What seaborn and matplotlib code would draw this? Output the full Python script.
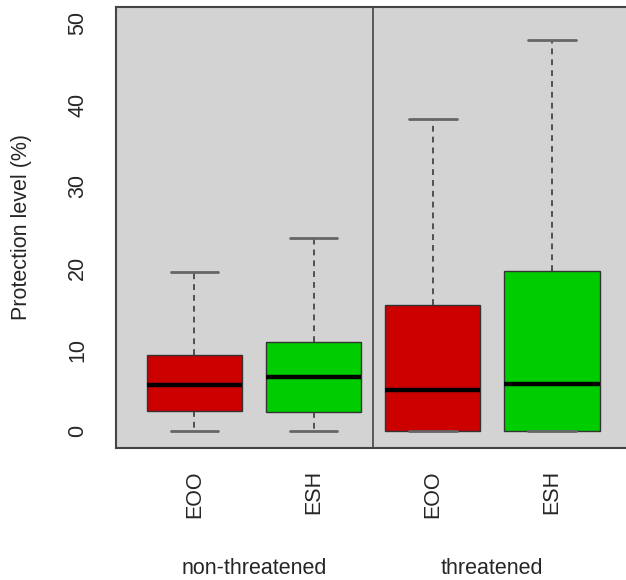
import numpy as np
import pandas as pd
import matplotlib
matplotlib.use("Agg")
import matplotlib.pyplot as plt
import matplotlib.transforms as mtransforms
import seaborn as sns

# Five-number summaries (min, Q1, median, Q3, max) of protection level (%)
groups = ["non-threatened", "non-threatened", "threatened", "threatened"]
measures = ["EOO", "ESH", "EOO", "ESH"]
nt_eoo = [0.0, 2.45, 5.73, 9.32, 19.46]
nt_esh = [0.0, 2.42, 6.62, 10.95, 23.7]
t_eoo = [0.0, 0.04, 5.03, 15.45, 38.2]
t_esh = [0.0, 0.0, 5.85, 19.62, 47.95]
summaries = [nt_eoo, nt_esh, t_eoo, t_esh]
yticks = [0, 10, 20, 30, 40, 50]

rows = []
for g, m, vals in zip(groups, measures, summaries):
    for v in vals:
        rows.append({"box": f"{g} {m}", "group": g, "measure": m, "value": v})
df = pd.DataFrame(rows)
order = [f"{g} {m}" for g, m in zip(groups, measures)]

sns.set_style("white")
plt.rcParams["font.family"] = ["Liberation Sans", "DejaVu Sans"]
FS = 15.5

fig = plt.figure(figsize=(6.26, 5.80), dpi=100)
ax = fig.add_axes([0.1848, 0.2281, 0.8226, 0.7603])
ax.set_facecolor("#D3D3D3")

sns.boxplot(
    data=df, x="box", y="value", hue="measure", order=order,
    hue_order=["EOO", "ESH"], palette={"EOO": "#CD0000", "ESH": "#00CD00"},
    dodge=False, width=0.8, whis=(0, 100), saturation=1, legend=False,
    linecolor="#333333", linewidth=1.0,
    whiskerprops={"linestyle": (0, (3.5, 3)), "color": "#3a3a3a", "linewidth": 1.2},
    capprops={"color": "#666666", "linewidth": 2.0},
    medianprops={"color": "black", "linewidth": 3.2},
    boxprops={"edgecolor": "#333333"},
    ax=ax,
)

# separator between the two status groups
ax.axvline(1.5, color="#444444", linewidth=1.2)

ax.set_xlim(-0.66, 3.66)
ax.set_ylim(-2, 52)
ax.set_yticks(yticks)
ax.set_yticklabels([str(t) for t in yticks], rotation=90, va="center", fontsize=FS)
ax.set_xticks(range(len(order)))
ax.set_xticklabels(measures, rotation=90, fontsize=FS)
ax.tick_params(axis="both", length=9.3, width=1.0, color="#555555", direction="out")
ax.tick_params(axis="y", pad=10.5)
ax.tick_params(axis="x", pad=7)
ax.set_xlabel("")
ax.set_ylabel("Protection level (%)", fontsize=FS)
ax.yaxis.set_label_coords(-0.163, 0.5)

for s in ax.spines.values():
    s.set_color("#444444")
    s.set_linewidth(1.5)

# group labels beneath the tick labels
trans = mtransforms.blended_transform_factory(ax.transData, fig.transFigure)
for g in ["non-threatened", "threatened"]:
    pos = [i for i, gg in enumerate(groups) if gg == g]
    ax.text(np.mean(pos), 1 - 568 / 580, g, transform=trans, ha="center",
            va="center", fontsize=FS)

fig.savefig("out.png", dpi=100)
